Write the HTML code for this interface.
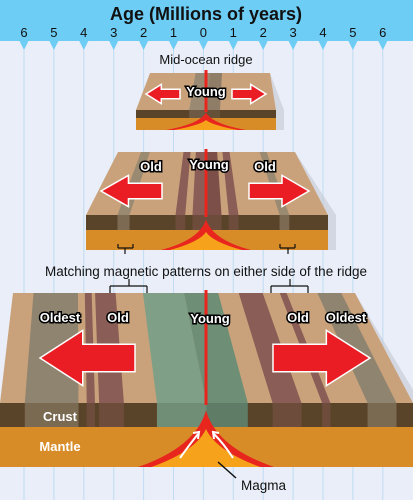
<!DOCTYPE html>
<html><head><meta charset="utf-8"><style>
html,body{margin:0;padding:0;background:#e9eef8;}
svg{display:block;font-family:"Liberation Sans",sans-serif;}
.lbl{font-weight:bold;fill:#fff;stroke:#000;stroke-width:3;paint-order:stroke;font-size:13px;}
</style></head><body>
<svg id="s" width="413" height="500" viewBox="0 0 413 500">
<rect width="413" height="500" fill="#e9eef8"/>
<g id="grid"></g>
<rect x="0" y="0" width="413" height="41" fill="#6dcdf5"/>
<text x="206" y="20" text-anchor="middle" font-size="18" font-weight="bold" fill="#111">Age (Millions of years)</text>
<g id="ticks"></g>
<text x="206" y="64" text-anchor="middle" font-size="13" fill="#111">Mid-ocean ridge</text>
<g id="blocks"></g>
<text x="206" y="276" text-anchor="middle" font-size="13.5" fill="#111">Matching magnetic patterns on either side of the ridge</text>
<g fill="none" stroke="#111" stroke-width="1.2">
<path d="M118,248 v-4 M133,248 v-4 M118,248 h15 M125,248 v6"/>
<path d="M280,248 v-4 M295,248 v-4 M280,248 h15 M288,248 v6"/>
<path d="M110,293 v-7 M147,293 v-7 M110,286 h37 M129,286 v-7"/>
<path d="M271,293 v-7 M308,293 v-7 M271,286 h37 M290,286 v-7"/>
</g>
<path d="M218,462 L236,478" stroke="#111" stroke-width="1.5"/>
<text x="241" y="490" font-size="13.5" fill="#111">Magma</text>
</svg>
<script>
const ages=[6,5,4,3,2,1,0,1,2,3,4,5,6];
const ns='http://www.w3.org/2000/svg';
function el(t,a,p){const e=document.createElementNS(ns,t);for(const k in a)e.setAttribute(k,a[k]);p.appendChild(e);return e;}
const grid=document.getElementById('grid'),ticks=document.getElementById('ticks'),blocks=document.getElementById('blocks');
ages.forEach((a,i)=>{
 const x=24+i*29.9;
 const l=el('line',{x1:x,y1:41,x2:x,y2:500,stroke:'#bfdcf2','stroke-width':1},grid);
 
 
 const tri=el('path',{d:`M${x-5},40 L${x+5},40 L${x},50 Z`,fill:'#6dcdf5'},ticks);
 
 
 const t=el('text',{x:x,y:37,'text-anchor':'middle','font-size':13,'fill':'#111'},ticks);
 t.textContent=a;
 
 
});
function block(name,B,stripes,labels,arrows){
 const g=el('g',{},blocks);
 
 
 el('polygon',{points:`${B.tr},${B.ty} ${B.br+8},${B.by} ${B.br+8},${B.by+B.c+B.m} ${B.br},${B.by+B.c+B.m} ${B.br},${B.by}`,fill:'#c4c8d4',opacity:.6},g);
 el('polygon',{points:`${B.tl},${B.ty} ${B.tr},${B.ty} ${B.br},${B.by} ${B.bl},${B.by}`,fill:'#c9a27b'},g);
 const xt=f=>B.tl+(B.tr-B.tl)*f, xb=f=>B.bl+(B.br-B.bl)*f;
 el('rect',{x:B.bl,y:B.by,width:B.br-B.bl,height:B.c,fill:'#5a4429'},g);
 stripes.forEach(s=>{
  el('polygon',{points:`${xt(s[0])},${B.ty} ${xt(s[1])},${B.ty} ${xb(s[1])},${B.by} ${xb(s[0])},${B.by}`,fill:s[2]},g);
  el('rect',{x:xb(s[0]),y:B.by,width:xb(s[1])-xb(s[0]),height:B.c,fill:s[3]},g);
 });
 el('rect',{x:B.bl,y:B.by+B.c,width:B.br-B.bl,height:B.m,fill:'#d88c28'},g);
 const cx=206,mb=B.by+B.c+B.m,w=B.mw;
 el('path',{d:`M${cx-w},${mb} Q${cx-w*0.15},${mb-B.m*0.5} ${cx},${B.by+B.c*0.3} Q${cx+w*0.15},${mb-B.m*0.5} ${cx+w},${mb} Z`,fill:'#e8261e'},g);
 el('path',{d:`M${cx-w*0.8},${mb} Q${cx-w*0.15},${mb-B.m*0.4} ${cx},${B.by+B.c+2} Q${cx+w*0.15},${mb-B.m*0.4} ${cx+w*0.8},${mb} Z`,fill:'#f7a21b'},g);
 el('path',{d:`M${cx},${B.ty-3} L${cx},${B.by+2}`,stroke:'#e8261e','stroke-width':3},g);
 arrows.forEach(a=>{
  const [x0,x1,y,h]=a,d=Math.sign(x1-x0),hl=(Math.abs(x1-x0))*0.45;
  const xm=x1-d*hl;
  const p=el('path',{d:`M${x0},${y-h*0.3} L${xm},${y-h*0.3} L${xm},${y-h*0.6} L${x1},${y} L${xm},${y+h*0.6} L${xm},${y+h*0.3} L${x0},${y+h*0.3} Z`,fill:'#ea1c24',stroke:'#fff','stroke-width':1.5},g);
  
  
 });
 labels.forEach(l=>{
  const t=el('text',{x:l[1],y:l[2],'text-anchor':'middle',class:'lbl'},g);
  t.textContent=l[0];
  
  
 });
}
block('block-young',{ty:73,by:110,tl:150,tr:270,bl:136,br:276,c:8,m:12,mw:40},
 [[0.38,0.5,'#9a8a74','#6e5a44'],[0.5,0.6,'#8f7d68','#655038']],
 [['Young',206,96]],[[180,146,94,16],[232,266,94,16]]);
block('block-old',{ty:152,by:215,tl:118,tr:295,bl:86,br:328,c:15,m:20,mw:45},
 [[0.13,0.18,'#9a8a72','#7c6a52'],[0.8,0.84,'#9a8a72','#7c6a52'],[0.37,0.41,'#8a5e56','#6e4c3c'],[0.44,0.5,'#8a5e56','#6e4c3c'],[0.5,0.56,'#7c5049','#6e4c3c'],[0.59,0.63,'#8a5e56','#6e4c3c']],
 [['Old',151,171],['Young',209,169],['Old',265,171]],[[162,101,191,26],[249,309,191,26]]);
block('block-oldest',{ty:293,by:403,tl:13,tr:355,bl:0,br:413,c:24,m:40,mw:68},
 [[0.06,0.19,'#8e8470','#7a6a52'],[0.21,0.23,'#8a5e56','#6e4c3c'],[0.24,0.3,'#8a5e56','#6e4c3c'],[0.38,0.5,'#7fa086','#708e75'],[0.5,0.6,'#6e8e76','#5f7c66'],[0.66,0.73,'#8a5e56','#6e4c3c'],[0.78,0.8,'#8a5e56','#6e4c3c'],[0.89,0.96,'#8e8470','#7a6a52']],
 [['Oldest',60,322],['Old',118,322],['Young',210,323],['Old',298,322],['Oldest',346,322]],[[135,40,358,46],[273,370,358,46]]);
const ga=el('g',{stroke:'#fff','stroke-width':2,fill:'none'},blocks);


el('path',{d:'M180,458 Q190,444 198,434 M193,433 L199,432 L198,439'},ga);
el('path',{d:'M233,458 Q224,444 214,434 M219,433 L213,432 L214,439'},ga);
const t1=el('text',{x:60,y:421,'font-size':13,'font-weight':'bold',fill:'#fff','text-anchor':'middle'},blocks);
t1.textContent='Crust';


const t2=el('text',{x:60,y:451,'font-size':13,'font-weight':'bold',fill:'#fff','text-anchor':'middle'},blocks);
t2.textContent='Mantle';


</script>
</body></html>
